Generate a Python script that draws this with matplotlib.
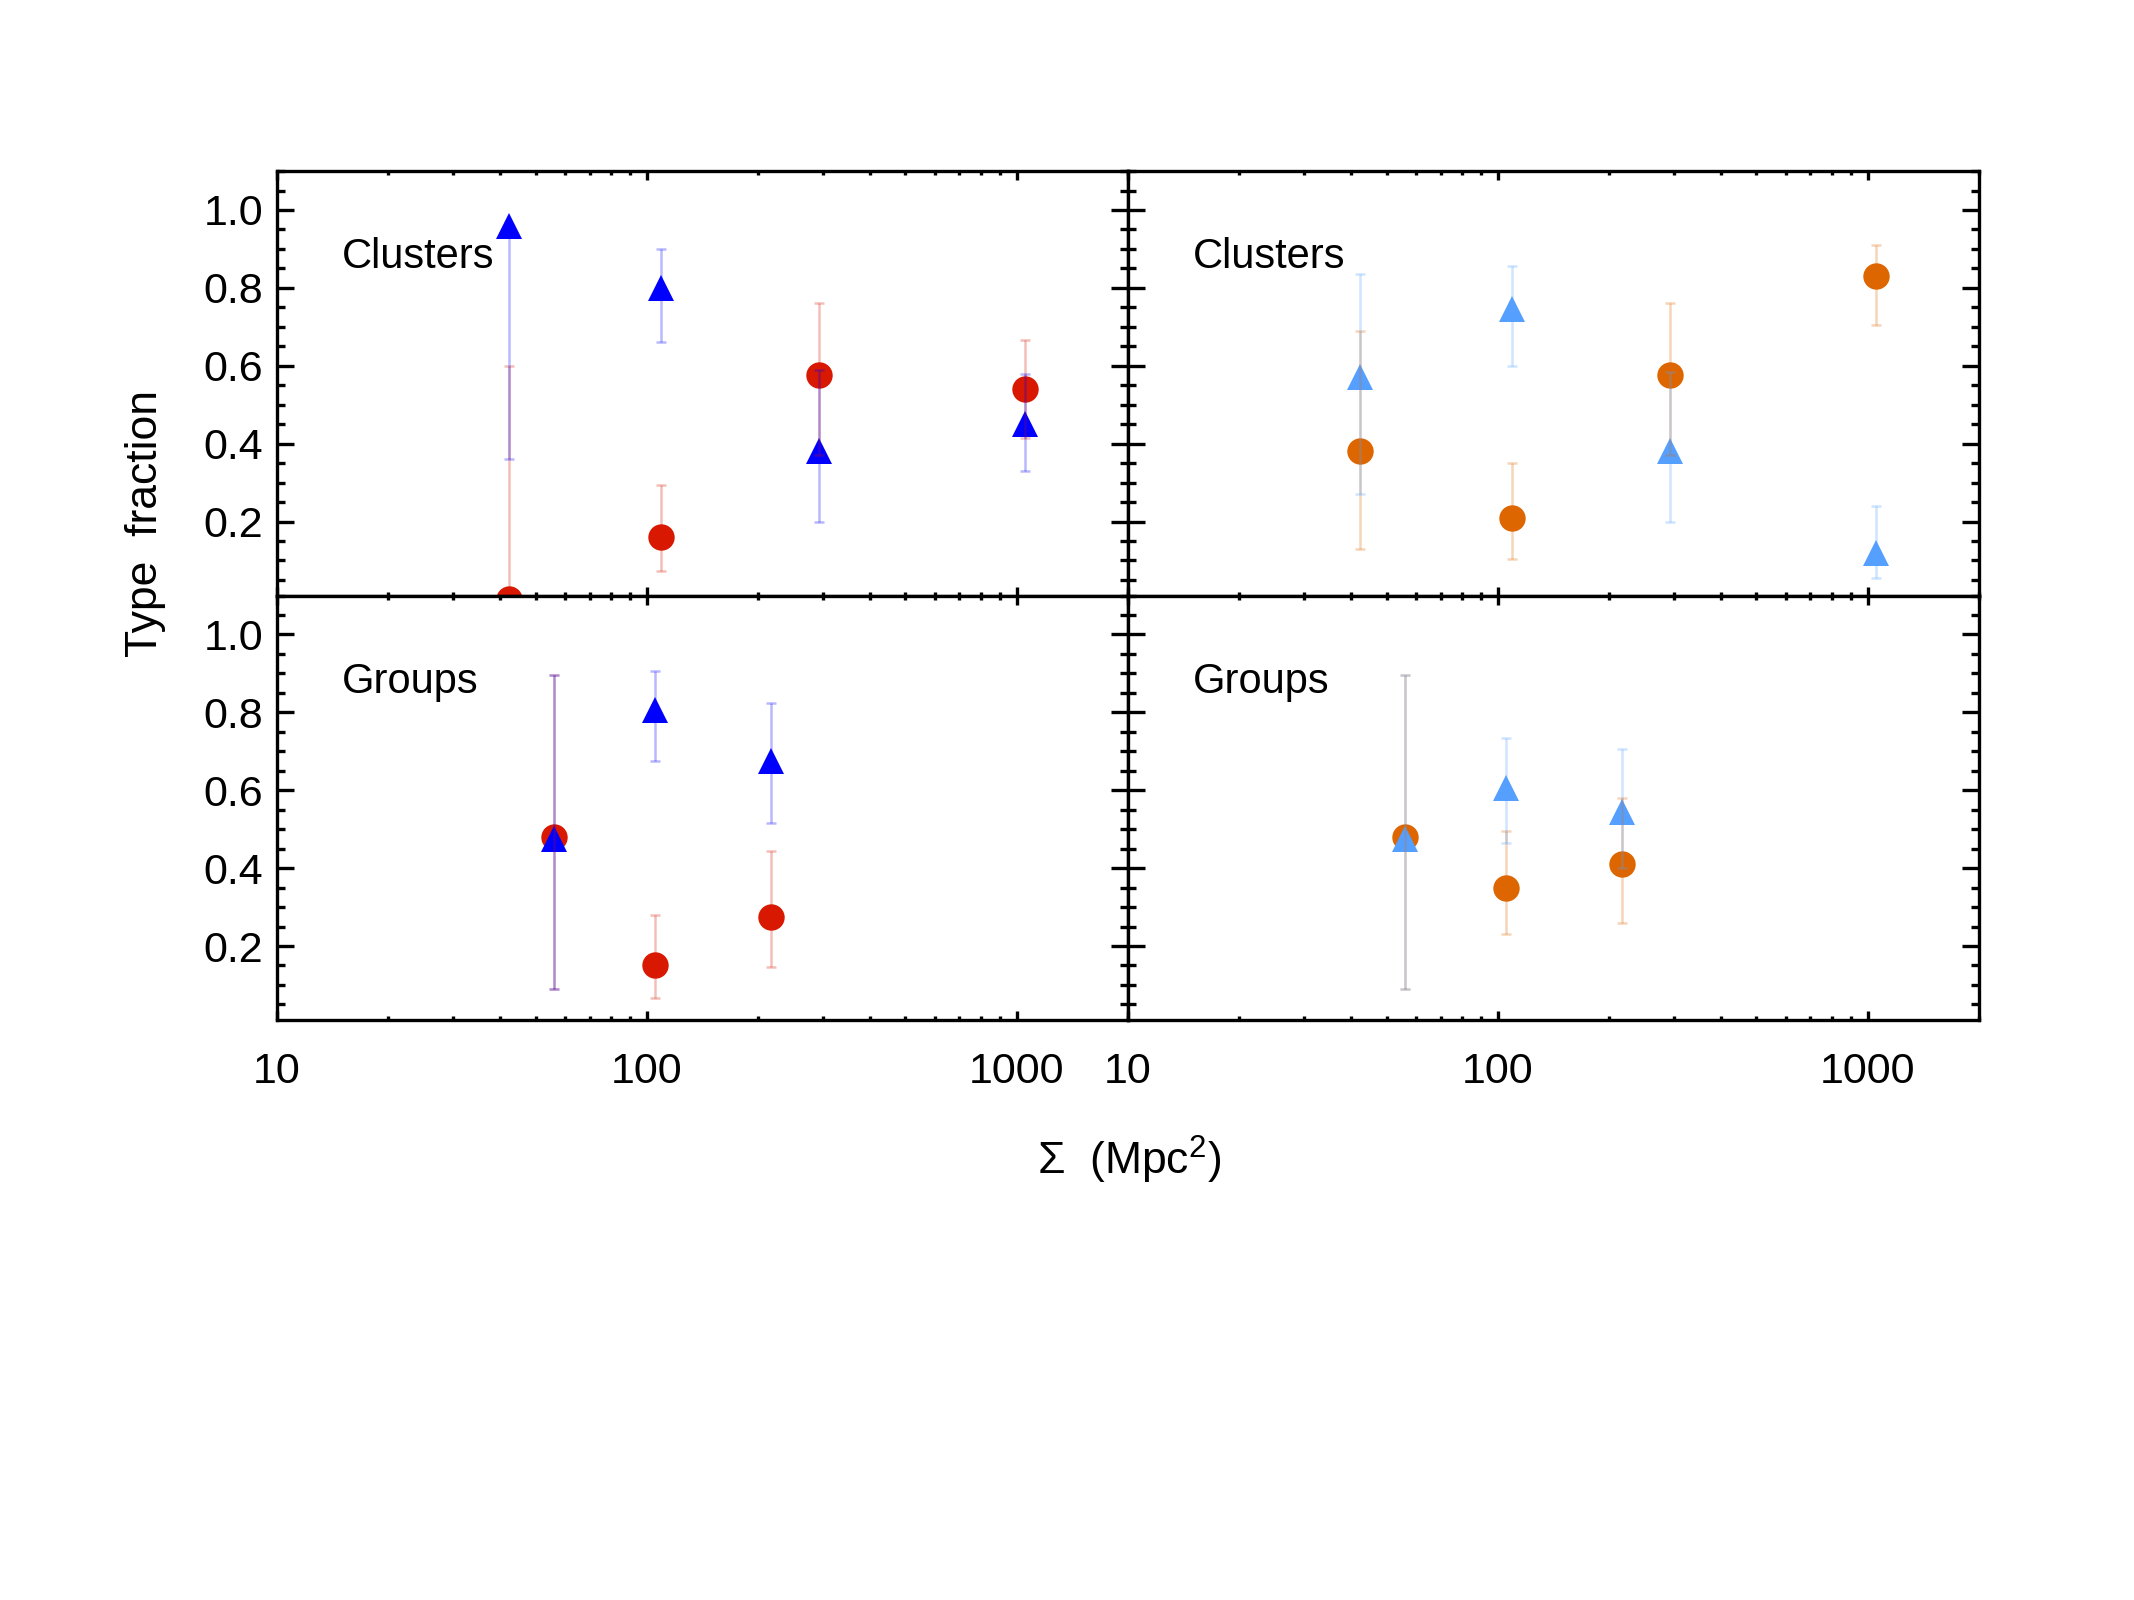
import numpy as np
import matplotlib
matplotlib.use("Agg")
import matplotlib.pyplot as plt
from matplotlib.ticker import FixedLocator, MultipleLocator, LogLocator, NullFormatter, FixedFormatter

plt.rcParams['font.family'] = ['Liberation Sans', 'DejaVu Sans']
plt.rcParams['mathtext.fontset'] = 'custom'
plt.rcParams['mathtext.rm'] = 'Liberation Sans'

# surface density bins
x_clusters = [42.5, 109.5, 292, 1055]
x_groups = [56, 105.5, 217]

# top left: clusters
cl_blue = [0.96, 0.80, 0.38, 0.45]
cl_blue_lo = [0.36, 0.66, 0.20, 0.33]
cl_blue_hi = [0.96, 0.90, 0.59, 0.58]
cl_red = [0.0, 0.16, 0.575, 0.54]
cl_red_lo = [0.0, 0.072, 0.37, 0.415]
cl_red_hi = [0.60, 0.295, 0.76, 0.665]

# top right: clusters
cl_lblue = [0.57, 0.745, 0.38, 0.12]
cl_lblue_lo = [0.27, 0.60, 0.20, 0.055]
cl_lblue_hi = [0.835, 0.855, 0.585, 0.24]
cl_orange = [0.38, 0.21, 0.575, 0.83]
cl_orange_lo = [0.13, 0.105, 0.37, 0.705]
cl_orange_hi = [0.69, 0.35, 0.76, 0.91]

# bottom left: groups
gr_blue = [0.475, 0.805, 0.675]
gr_blue_lo = [0.09, 0.675, 0.515]
gr_blue_hi = [0.895, 0.905, 0.825]
gr_red = [0.48, 0.15, 0.275]
gr_red_lo = [0.09, 0.066, 0.145]
gr_red_hi = [0.895, 0.28, 0.445]

# bottom right: groups
gr_lblue = [0.475, 0.605, 0.545]
gr_lblue_lo = [0.09, 0.465, 0.40]
gr_lblue_hi = [0.895, 0.735, 0.705]
gr_orange = [0.48, 0.35, 0.41]
gr_orange_lo = [0.09, 0.23, 0.26]
gr_orange_hi = [0.895, 0.495, 0.58]

RED = '#d81800'
BLUE = '#0000ff'
LBLUE = '#55a0ff'
ORANGE = '#dd6600'


def draw_series(ax, x, vals, lo, hi, color, marker):
    v = np.array(vals)
    yerr = [v - np.array(lo), np.array(hi) - v]
    ax.plot(x, v, linestyle='none', marker=marker, ms=19, color=color,
            markeredgewidth=0, zorder=2)
    ax.errorbar(x, v, yerr=yerr, fmt='none', ecolor=color, alpha=0.28,
                elinewidth=1.8, capsize=3.5, capthick=1.8, zorder=3)


def style_axis(ax, show_x, show_y):
    ax.set_xscale('log')
    ax.set_xlim(10, 2000)
    ax.set_ylim(0.01, 1.1)
    ax.yaxis.set_major_locator(FixedLocator([0.2, 0.4, 0.6, 0.8, 1.0]))
    ax.yaxis.set_minor_locator(MultipleLocator(0.05))
    ax.xaxis.set_major_locator(FixedLocator([10, 100, 1000]))
    ax.xaxis.set_minor_locator(LogLocator(base=10, subs=np.arange(2, 10)))
    ax.xaxis.set_minor_formatter(NullFormatter())
    ax.xaxis.set_major_formatter(FixedFormatter(['10', '100', '1000']))
    ax.yaxis.set_major_formatter(FixedFormatter(['0.2', '0.4', '0.6', '0.8', '1.0']))
    ax.tick_params(axis='both', which='both', direction='in', top=True, right=True,
                   width=2.4, labelsize=31)
    ax.tick_params(axis='y', which='major', length=12.4, pad=10)
    ax.tick_params(axis='y', which='minor', length=6.0)
    ax.tick_params(axis='x', which='major', length=6.5, pad=23)
    ax.tick_params(axis='x', which='minor', length=3.2)
    ax.tick_params(labelbottom=show_x, labelleft=show_y)
    for s in ax.spines.values():
        s.set_linewidth(2.4)


fig = plt.figure(figsize=(21.34, 16), dpi=100)
left, mid, right = 0.1298, 0.5286, 0.9274
bottom, hmid, top = 0.3625, 0.6278, 0.8931

ax_tl = fig.add_axes([left, hmid, mid - left, top - hmid])
ax_tr = fig.add_axes([mid, hmid, right - mid, top - hmid])
ax_bl = fig.add_axes([left, bottom, mid - left, hmid - bottom])
ax_br = fig.add_axes([mid, bottom, right - mid, hmid - bottom])

draw_series(ax_tl, x_clusters, cl_red, cl_red_lo, cl_red_hi, RED, 'o')
draw_series(ax_tl, x_clusters, cl_blue, cl_blue_lo, cl_blue_hi, BLUE, '^')
draw_series(ax_tr, x_clusters, cl_orange, cl_orange_lo, cl_orange_hi, ORANGE, 'o')
draw_series(ax_tr, x_clusters, cl_lblue, cl_lblue_lo, cl_lblue_hi, LBLUE, '^')
draw_series(ax_bl, x_groups, gr_red, gr_red_lo, gr_red_hi, RED, 'o')
draw_series(ax_bl, x_groups, gr_blue, gr_blue_lo, gr_blue_hi, BLUE, '^')
draw_series(ax_br, x_groups, gr_orange, gr_orange_lo, gr_orange_hi, ORANGE, 'o')
draw_series(ax_br, x_groups, gr_lblue, gr_lblue_lo, gr_lblue_hi, LBLUE, '^')

style_axis(ax_tl, False, True)
style_axis(ax_tr, False, False)
style_axis(ax_bl, True, True)
style_axis(ax_br, True, False)

for ax, label in [(ax_tl, 'Clusters'), (ax_tr, 'Clusters'),
                  (ax_bl, 'Groups'), (ax_br, 'Groups')]:
    ax.text(0.0763, 0.7715, label, transform=ax.transAxes, fontsize=30,
            ha='left', va='baseline')

fig.text(0.0684, 0.673, 'Type  fraction', rotation=90, ha='center', va='center',
         fontsize=32)
fig.text(0.529, 0.275, r'Σ  (Mpc$^\mathregular{2}$)', ha='center', va='center',
         fontsize=32)

fig.savefig('out.png', dpi=100)
